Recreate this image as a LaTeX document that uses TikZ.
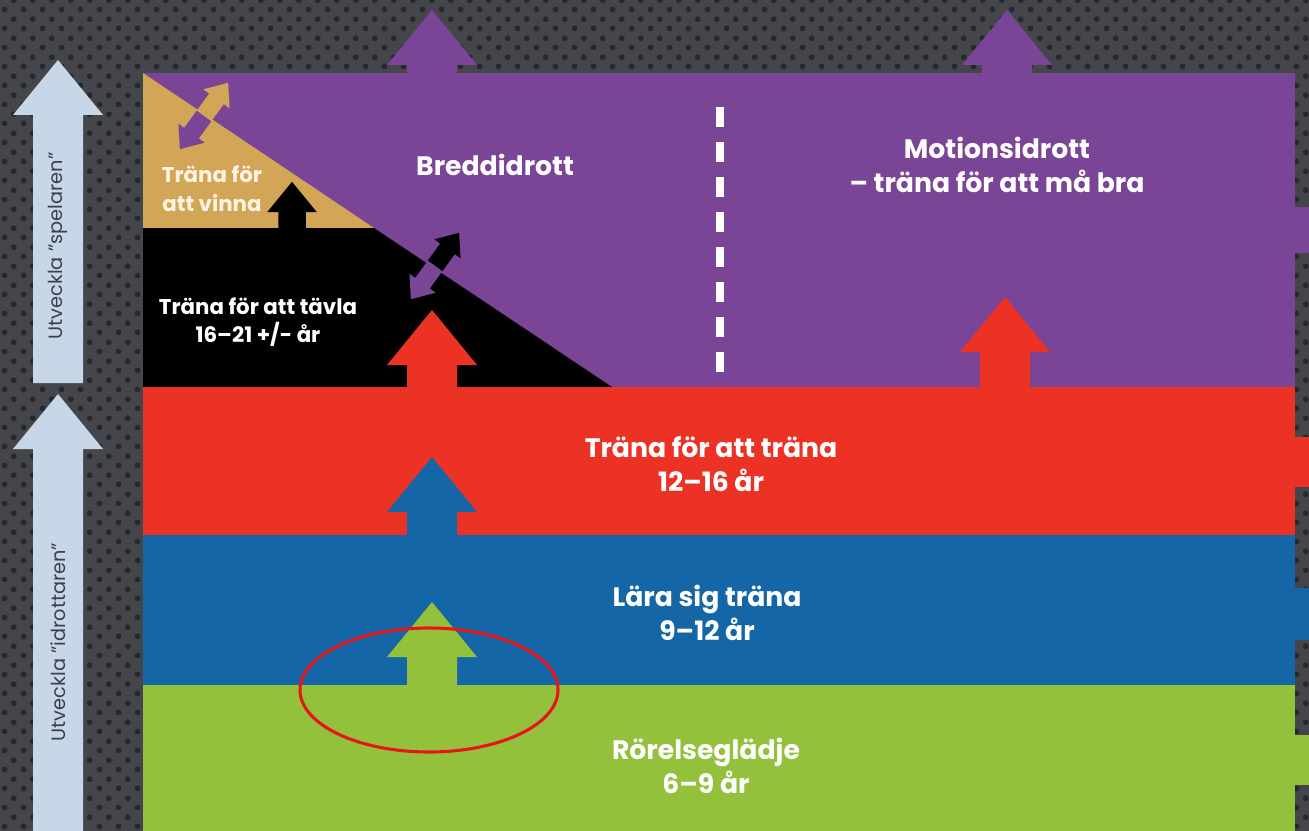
\documentclass[tikz,border=0pt]{standalone}
\usepackage{fontspec}
\setmainfont{Poppins}
\usetikzlibrary{patterns.meta}

\definecolor{bgGray}{HTML}{44464B}
\definecolor{bgDot}{HTML}{26282C}
\definecolor{lilac}{HTML}{7B4597}
\definecolor{redB}{HTML}{EC3225}
\definecolor{blueB}{HTML}{1566A6}
\definecolor{greenB}{HTML}{93C13B}
\definecolor{tanB}{HTML}{D3A657}
\definecolor{skyB}{HTML}{C8D7E8}
\definecolor{inkB}{HTML}{3B4049}
\definecolor{cream}{HTML}{FFF4E4}
\definecolor{ringRed}{HTML}{E8141C}

\pgfdeclarepattern{
  name=holes, type=uncolored,
  bottom left={\pgfpoint{0pt}{0pt}},
  top right={\pgfpoint{14pt}{14pt}},
  tile size={\pgfpoint{14pt}{14pt}},
  code={
    \pgfpathcircle{\pgfpoint{3.5pt}{3.5pt}}{2.2pt}
    \pgfpathcircle{\pgfpoint{10.5pt}{10.5pt}}{2.2pt}
    \pgfusepath{fill}
  }
}

\tikzset{
  pics/uparr/.style={code={
    \fill[pic actions] (-25,0) -- (-25,{-(#1-55)}) -- (-45,{-(#1-55)}) -- (0,{-#1})
      -- (45,{-(#1-55)}) -- (25,{-(#1-55)}) -- (25,0) -- cycle;
  }}
}

\begin{document}
\begin{tikzpicture}[
  x=0.75pt, y=-0.75pt,
  lbl/.style={text=white, align=center, font=\fontsize{20}{25}\selectfont\bfseries},
  small/.style={lbl, font=\fontsize{16}{21.5}\selectfont\bfseries},
  side/.style={text=inkB, rotate=90, font=\fontsize{14.5}{16}\selectfont}]

\useasboundingbox (0,0) rectangle (1309,831);
\fill[bgGray] (0,0) rectangle (1309,831);
\fill[pattern=holes, pattern color=bgDot] (0,0) rectangle (1309,831);

% left arrows
\pic[fill=skyB] at (58,383) {uparr=323};
\pic[fill=skyB] at (58,831) {uparr=437};
\node[side] (tSpel) at (58,246) {Utveckla "spelaren"};
\node[side] (tIdrott) at (58,642) {Utveckla "idrottaren"};

% purple top
\fill[lilac] (143,73) rectangle (1295,387);
\fill[lilac] (1295,207) rectangle (1309,253);
\pic[fill=lilac] at (432,73) {uparr=63};
\pic[fill=lilac] at (1007,73) {uparr=63};
\fill[tanB] (143,73) -- (374,228) -- (143,228) -- cycle;
\fill[black] (143,228) -- (374,228) -- (612,387) -- (143,387) -- cycle;
\pic[fill=black, scale=0.55] at (292,228) {uparr=84};

% swap arrows on the slope
\pic[fill=tanB, rotate=-36, scale=0.36] at (204,116) {uparr=114};
\pic[fill=lilac, rotate=144, scale=0.36] at (204,116) {uparr=114};
\pic[fill=black, rotate=-36, scale=0.36] at (435,266) {uparr=114};
\pic[fill=lilac, rotate=144, scale=0.36] at (435,266) {uparr=114};

\draw[white, line width=6pt, dash pattern=on 15pt off 11.25pt] (720,107) -- (720,376);

% bands
\fill[redB] (143,387) rectangle (1295,535);
\fill[redB] (1295,437) rectangle (1309,487);
\pic[fill=redB] at (432,387) {uparr=77};
\pic[fill=redB] at (1005,387) {uparr=90};

\fill[blueB] (143,535) rectangle (1295,685);
\fill[blueB] (1295,588) rectangle (1309,640);
\pic[fill=blueB] at (432,535) {uparr=78};

\fill[greenB] (143,685) rectangle (1295,831);
\fill[greenB] (1295,735) rectangle (1309,785);
\pic[fill=greenB] at (432,685) {uparr=83};

% labels
\node[small, text=cream] (tVinna) at (212,189) {Träna för\\att vinna};
\node[lbl] (tBredd) at (495,165) {Breddidrott};
\node[lbl] (tMotion) at (997,165) {Motionsidrott\\– träna för att må bra};
\node[small] (tTavla) at (258,322) {Träna för att tävla\\16–21 +/- år};
\node[lbl] (tTrana) at (711,464) {Träna för att träna\\12–16 år};
\node[lbl] (tLara) at (707,613) {Lära sig träna\\9–12 år};
\node[lbl] (tRorelse) at (706,766) {Rörelseglädje\\6–9 år};

\draw[ringRed, line width=2.3pt] (429,690) ellipse [x radius=129, y radius=62];

\end{tikzpicture}
\end{document}
